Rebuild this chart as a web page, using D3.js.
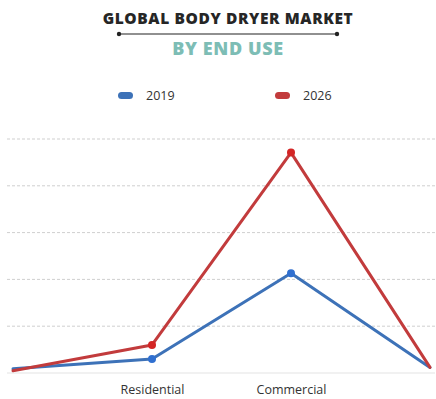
<!DOCTYPE html>
<html>
<head>
<meta charset="utf-8">
<script src="https://cdn.jsdelivr.net/npm/d3@7"></script>
<style>
  body { margin: 0; background: #fff; }
  svg { display: block; font-family: "Open Sans", sans-serif; }
</style>
</head>
<body>
<div id="chart"></div>
<script>
var categories = ["start", "Residential", "Commercial", "end"];
var tickLabels = ["", "Residential", "Commercial", ""];
var values2019 = [0.09, 0.30, 2.13, 0.12];
var values2026 = [0.05, 0.60, 4.71, 0.12];
var gridTicks = [1, 2, 3, 4, 5];
var seriesNames = ["2019", "2026"];
var seriesColors = ["#3d72b8", "#c23b3c"];

var width = 436, height = 399;
var svg = d3.select("#chart").append("svg")
  .attr("width", width)
  .attr("height", height);

// titles
svg.append("text")
  .attr("x", 228).attr("y", 24)
  .attr("text-anchor", "middle")
  .style("font-size", "15.5px").style("font-weight", "800")
  .style("letter-spacing", "0.6px")
  .style("fill", "#262626")
  .text("GLOBAL BODY DRYER MARKET");
svg.append("line")
  .attr("x1", 119).attr("x2", 337).attr("y1", 34).attr("y2", 34)
  .attr("stroke", "#222").attr("stroke-width", 1.2);
[119, 337].forEach(function (cx) {
  svg.append("circle").attr("cx", cx).attr("cy", 34).attr("r", 2.2).attr("fill", "#222");
});
svg.append("text")
  .attr("x", 228).attr("y", 55)
  .attr("text-anchor", "middle")
  .style("font-size", "18px").style("font-weight", "800")
  .style("letter-spacing", "0.6px")
  .style("fill", "#7dbdb5")
  .text("BY END USE");

// legend
var legend = svg.append("g");
var legendX = [118, 275];
seriesNames.forEach(function (name, i) {
  legend.append("rect")
    .attr("x", legendX[i]).attr("y", 92)
    .attr("width", 15).attr("height", 7).attr("rx", 3.5)
    .attr("fill", seriesColors[i]);
  legend.append("text")
    .attr("x", legendX[i] + 28).attr("y", 100)
    .style("font-size", "12.5px").style("fill", "#333")
    .text(name);
});

var x = d3.scalePoint()
  .domain(categories)
  .range([13, 430]);
var y = d3.scaleLinear()
  .domain([0, 5])
  .range([373, 139]);

// gridlines
svg.append("g").selectAll("line")
  .data(gridTicks)
  .enter().append("line")
  .attr("x1", 7).attr("x2", 435)
  .attr("y1", function (d) { return y(d); })
  .attr("y2", function (d) { return y(d); })
  .attr("stroke", "#cfcfcf")
  .attr("stroke-dasharray", "3,2")
  .attr("stroke-width", 1);

// baseline
svg.append("line")
  .attr("x1", 7).attr("x2", 435)
  .attr("y1", y(0)).attr("y2", y(0))
  .attr("stroke", "#e3e3e3").attr("stroke-width", 1);

// x axis labels
var xAxis = svg.append("g")
  .attr("transform", "translate(0," + y(0) + ")")
  .call(d3.axisBottom(x).tickSize(0).tickPadding(12)
    .tickFormat(function (d, i) { return tickLabels[i]; }));
xAxis.select(".domain").remove();
xAxis.selectAll("text")
  .style("font-family", "'Open Sans', sans-serif")
  .style("font-size", "12.5px")
  .style("fill", "#333");

var line = d3.line()
  .x(function (d, i) { return x(categories[i]); })
  .y(function (d) { return y(d); });

[values2019, values2026].forEach(function (vals, s) {
  svg.append("path")
    .datum(vals)
    .attr("d", line)
    .attr("fill", "none")
    .attr("stroke", seriesColors[s])
    .attr("stroke-width", 3)
    .attr("stroke-linejoin", "round")
    .attr("stroke-linecap", "round");
});

// markers only on labelled categories
[values2019, values2026].forEach(function (vals, s) {
  svg.append("g").selectAll("circle")
    .data(vals.slice(1, 3))
    .enter().append("circle")
    .attr("cx", function (d, i) { return x(categories[i + 1]); })
    .attr("cy", function (d) { return y(d); })
    .attr("r", 4)
    .attr("fill", s === 0 ? "#2f6fd0" : "#d42525");
});
</script>
</body>
</html>
